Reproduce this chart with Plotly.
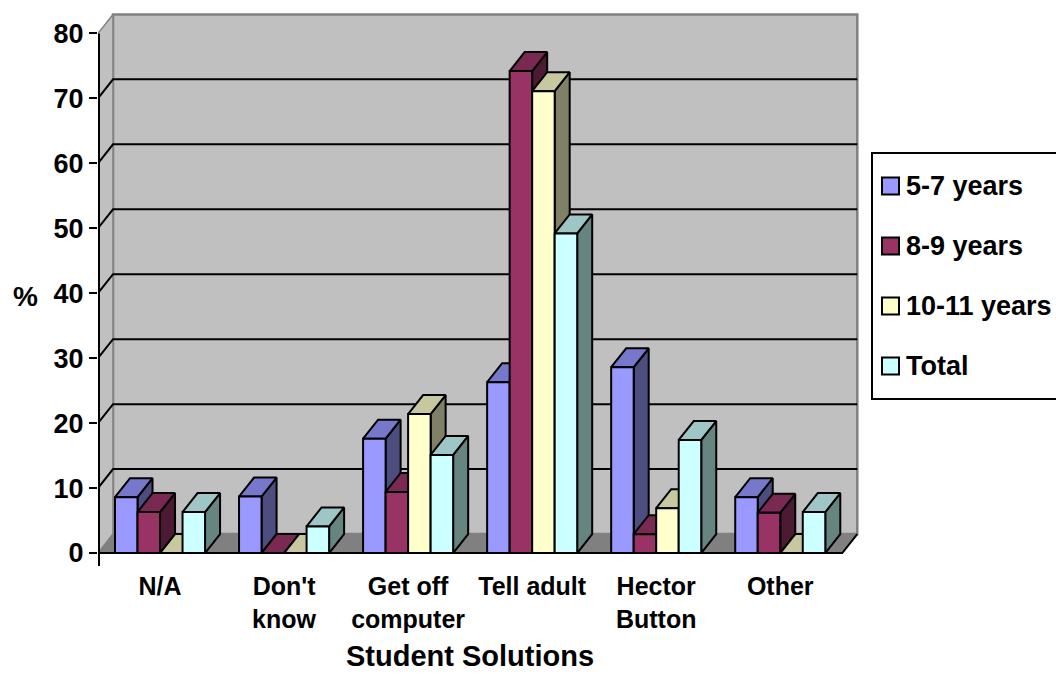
import plotly.graph_objects as go

# ---------------- data ----------------
categories = ["N/A", "Don't know", "Get off computer", "Tell adult", "Hector Button", "Other"]
tick_labels = ["N/A", "Don't<br>know", "Get off<br>computer", "Tell adult", "Hector<br>Button", "Other"]
series_names = ["5-7 years", "8-9 years", "10-11 years", "Total"]
age_5_7 = [8.6, 8.7, 17.6, 26.3, 28.6, 8.6]
age_8_9 = [6.3, 0.0, 9.4, 74.2, 2.9, 6.2]
age_10_11 = [0.0, 0.0, 21.4, 71.1, 6.9, 0.0]
total = [6.3, 4.1, 15.1, 49.2, 17.4, 6.3]
y_ticks = [0, 10, 20, 30, 40, 50, 60, 70, 80]

series_values = [age_5_7, age_8_9, age_10_11, total]

# ---------------- style ----------------
front_colors = ["#9999FF", "#993366", "#FFFFCC", "#CCFFFF"]
top_colors = ["#7777CC", "#7A2952", "#C8C8A0", "#9EC6C6"]
side_colors = ["#4D4D80", "#4D1A33", "#808066", "#668480"]
FONT = "Arial, 'Liberation Sans', sans-serif"

W, H = 1056, 674
ML, MR, MT, MB = 98, 195, 10, 108
DX, DY = 0.121, 2.92          # oblique depth offset (data units)
BAR_W = 0.1815
GROUP_W = BAR_W * len(series_names)
X_LO, X_HI = -0.5, len(categories) - 0.5 + DX + 0.03
Y_LO, Y_HI = -2.0, 83.6
Y_MAX = y_ticks[-1]
NCAT = len(categories)


def px_x(p):
    return (p - ML) / (W - ML - MR)


def px_y(p):
    return (H - MB - p) / (H - MT - MB)


def poly(xs, ys, fill, line_color="black", lw=2.0):
    return go.Scatter(x=xs + [xs[0]], y=ys + [ys[0]], mode="lines", fill="toself",
                      fillcolor=fill, line=dict(color=line_color, width=lw),
                      hoverinfo="skip", showlegend=False)


def line(xs, ys, color="black", lw=2.0):
    return go.Scatter(x=xs, y=ys, mode="lines", line=dict(color=color, width=lw),
                      hoverinfo="skip", showlegend=False, connectgaps=False)


traces = []
xl, xr = -0.5, NCAT - 0.5
# back wall
traces.append(poly([xl + DX, xr + DX, xr + DX, xl + DX], [DY, DY, Y_MAX + DY, Y_MAX + DY],
                   "#C0C0C0", "#808080", 2.5))
# left wall
traces.append(poly([xl, xl + DX, xl + DX, xl], [0, DY, Y_MAX + DY, Y_MAX],
                   "#C0C0C0", "#808080", 1.5))
# floor
traces.append(poly([xl, xr, xr + DX, xl + DX], [0, 0, DY, DY], "#808080", "#808080", 1))
# gridlines
gx, gy = [], []
for v in y_ticks[1:-1]:
    gx += [xl, xl + DX, xr + DX, None]
    gy += [v, v + DY, v + DY, None]
traces.append(line(gx, gy, "black", 2))
# floor front and right edges
traces.append(line([xl, xr, xr + DX], [0, 0, DY], "black", 2))

# 3D bars
for i in range(NCAT):
    for k, vals in enumerate(series_values):
        v = vals[i]
        x0 = i - GROUP_W / 2 + k * BAR_W
        x1 = x0 + BAR_W
        if v > 0:
            traces.append(poly([x1, x1 + DX, x1 + DX, x1], [0, DY, v + DY, v], side_colors[k]))
        traces.append(poly([x0, x1, x1 + DX, x0 + DX], [v, v, v + DY, v + DY], top_colors[k]))
        if v > 0:
            traces.append(poly([x0, x1, x1, x0], [0, 0, v, v], front_colors[k]))

# value axis line (front) with small tick below floor
ax_x = xl + 1.0 / 124
traces.append(line([ax_x, ax_x], [Y_LO, Y_MAX], "black", 2))

fig = go.Figure(traces)

# manual legend (box is partly cut at the right edge, like the original)
shapes = [dict(type="rect", xref="paper", yref="paper",
               x0=px_x(872), x1=px_x(1075), y0=px_y(399), y1=px_y(153),
               line=dict(color="black", width=2), fillcolor="white", layer="above")]
annotations = []
leg_y = [186, 246, 306, 366]
for k, name in enumerate(series_names):
    cy = leg_y[k]
    shapes.append(dict(type="rect", xref="paper", yref="paper",
                       x0=px_x(882), x1=px_x(899), y0=px_y(cy + 8.5), y1=px_y(cy - 8.5),
                       line=dict(color="black", width=2), fillcolor=front_colors[k], layer="above"))
    annotations.append(dict(text=f"<b>{name}</b>", xref="paper", yref="paper",
                            x=px_x(904), y=px_y(cy), xanchor="left", yanchor="middle",
                            showarrow=False, font=dict(family=FONT, size=27, color="black")))

annotations.append(dict(text="<b>%</b>", xref="paper", yref="paper", x=px_x(25), y=px_y(296),
                        xanchor="center", yanchor="middle", showarrow=False,
                        font=dict(family=FONT, size=28, color="black")))
annotations.append(dict(text="<b>Student Solutions</b>", xref="paper", yref="paper",
                        x=px_x(470), y=px_y(674), xanchor="center", yanchor="bottom",
                        showarrow=False, font=dict(family=FONT, size=29, color="black")))

fig.update_layout(
    width=W, height=H,
    margin=dict(l=ML, r=MR, t=MT, b=MB, autoexpand=False),
    paper_bgcolor="white", plot_bgcolor="white",
    showlegend=False,
    shapes=shapes, annotations=annotations,
    xaxis=dict(range=[X_LO, X_HI], tickvals=list(range(NCAT)), ticktext=[f"<b>{t}</b>" for t in tick_labels],
               showgrid=False, zeroline=False, showline=False, ticks="",
               tickfont=dict(family=FONT, size=25, color="black"), ticklabelstandoff=3,
               fixedrange=True),
    yaxis=dict(range=[Y_LO, Y_HI], tickvals=y_ticks, ticktext=[f"<b>{t}</b>" for t in y_ticks],
               showgrid=False, zeroline=False, showline=False, ticks="outside", ticklen=8,
               tickwidth=2, tickcolor="black",
               tickfont=dict(family=FONT, size=27, color="black"), fixedrange=True),
)

fig.write_html("out.html", config={"displayModeBar": False},
               post_script="document.body.style.margin='0';document.body.style.overflow='hidden';")
